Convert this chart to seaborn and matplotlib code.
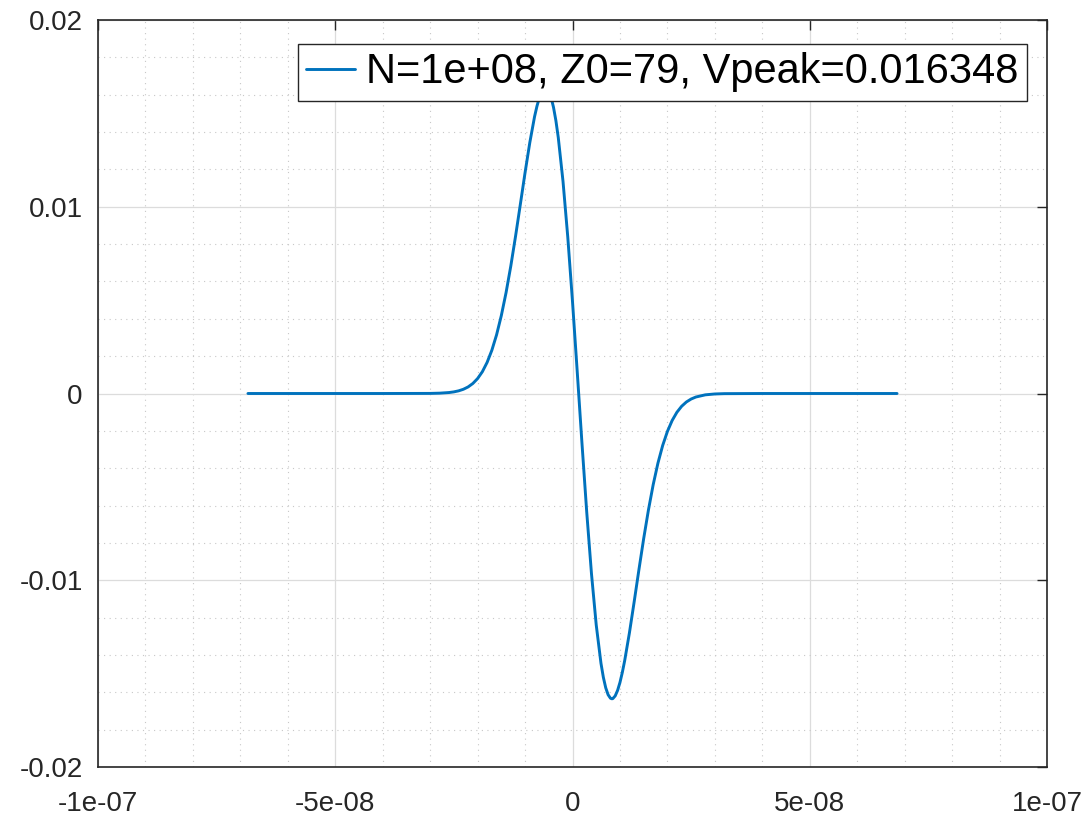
import numpy as np
import pandas as pd
import matplotlib
matplotlib.use("Agg")
import matplotlib.pyplot as plt
from matplotlib.ticker import FixedLocator, FixedFormatter, MultipleLocator
import seaborn as sns

# time samples (ns) and voltage values
time_ns = [-68.4, -40, -30, -28, -26, -25, -24, -23, -22, -21, -20, -19, -18, -17,
           -16, -15, -14, -13, -12, -11, -10, -9, -8, -7.5, -7, -6.5, -6, -5.7,
           -5.5, -5, -4.5, -4, -3.5, -3, -2, -1,
           0, 1, 2, 3, 4, 5, 6, 6.5, 7, 7.5, 8, 8.3, 8.5, 9, 9.5, 10, 10.5,
           11, 12, 13, 14, 15, 16, 17, 18, 19,
           20, 21, 22, 23, 24, 25, 26, 28, 30, 32, 40, 68.4]
voltage = [0.0, 0.0, 0.000005, 0.000018, 0.000052, 0.000087, 0.000142, 0.000226,
           0.000352, 0.000537, 0.000800, 0.001166, 0.001663, 0.002313, 0.003143,
           0.004173, 0.005404, 0.006830, 0.008425, 0.010115, 0.011822, 0.013433,
           0.014820, 0.015376, 0.015830, 0.016146, 0.016320, 0.016348,
           0.016335, 0.016180, 0.015846, 0.015320, 0.014612, 0.013710, 0.011360,
           0.008390, 0.004920, 0.001155, -0.002682, -0.006357, -0.009652,
           -0.012392, -0.014446, -0.015196, -0.015757, -0.016129, -0.016318,
           -0.016348, -0.016337, -0.016192, -0.015900, -0.015476, -0.014937,
           -0.014300, -0.012812, -0.011147, -0.009432, -0.007772, -0.006242,
           -0.004888, -0.003733, -0.002787, -0.002032, -0.001446, -0.001006,
           -0.000684, -0.000454, -0.000296, -0.000188, -0.000071, -0.000025,
           -0.000008, 0.0, 0.0]
series_label = "N=1e+08, Z0=79, Vpeak=0.016348"

x_ticks = [-1e-7, -5e-8, 0, 5e-8, 1e-7]
x_tick_labels = ["-1e-07", "-5e-08", "0", "5e-08", "1e-07"]
y_ticks = [-0.02, -0.01, 0, 0.01, 0.02]
y_tick_labels = ["-0.02", "-0.01", "0", "0.01", "0.02"]

sns.set_theme(style="white")
plt.rcParams["font.family"] = ["Liberation Sans", "DejaVu Sans"]

df = pd.DataFrame({"t": np.array(time_ns) * 1e-9, "v": voltage, "s": series_label})

fig = plt.figure(figsize=(10.86, 8.17), dpi=100)
ax = fig.add_axes([98 / 1086, 50 / 817, 949 / 1086, 747 / 817])

sns.lineplot(data=df, x="t", y="v", hue="s", palette=["#0072BD"], linewidth=2.1,
             ax=ax, sort=False, estimator=None)

ax.set_xlim(-1e-7, 1e-7)
ax.set_ylim(-0.02, 0.02)
ax.xaxis.set_major_locator(FixedLocator(x_ticks))
ax.xaxis.set_major_formatter(FixedFormatter(x_tick_labels))
ax.yaxis.set_major_locator(FixedLocator(y_ticks))
ax.yaxis.set_major_formatter(FixedFormatter(y_tick_labels))
ax.xaxis.set_minor_locator(MultipleLocator(1e-8))
ax.yaxis.set_minor_locator(MultipleLocator(0.002))
ax.set_xlabel("")
ax.set_ylabel("")

ax.grid(True, which="major", color="#dcdcdc", linestyle="-", linewidth=0.9)
ax.grid(True, which="minor", color="#c8c8c8", linestyle=(0, (1, 4)), linewidth=0.8)
ax.set_axisbelow(True)

for sp in ax.spines.values():
    sp.set_color("#262626")
    sp.set_linewidth(1.2)

ax.tick_params(which="major", direction="in", length=7, width=1.0, color="#262626",
               top=True, right=True, labelsize=20, labelcolor="#262626")
ax.tick_params(axis="x", which="major", pad=17)
ax.tick_params(axis="y", which="major", pad=11)
ax.tick_params(which="minor", length=0)

leg = ax.legend(loc="upper right", bbox_to_anchor=(0.979, 0.968), borderaxespad=0,
                fontsize=30, frameon=True, fancybox=False, handlelength=1.17,
                handletextpad=0.27, borderpad=0.2, edgecolor="#262626")
leg.get_frame().set_linewidth(1.0)
leg.get_frame().set_alpha(1.0)
for txt in leg.get_texts():
    txt.set_color("black")

fig.savefig("out.png", dpi=100, facecolor="white")
